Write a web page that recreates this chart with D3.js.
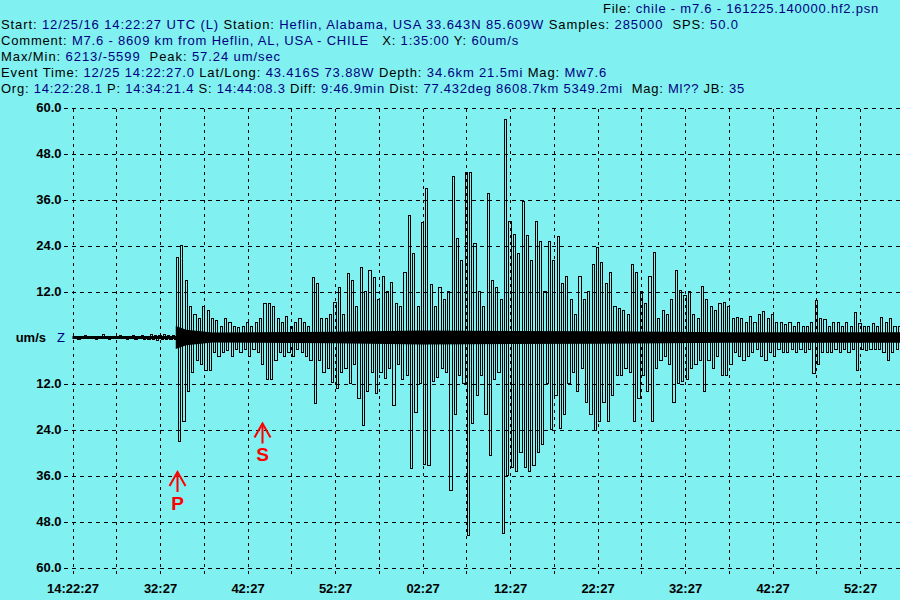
<!DOCTYPE html>
<html><head><meta charset="utf-8">
<script src="https://cdn.jsdelivr.net/npm/d3@7"></script>
<style>
html,body{margin:0;padding:0;background:#80f0f0;}
svg{display:block;}
text{white-space:pre;}
</style></head><body>
<svg id="chart" width="900" height="600"></svg>
<script>
// ---------- DATA ----------
const sampleStepSec = 15;           // one value read per 15 s of record
const recordMinutes = 95;           // X: 1:35:00
const yTicks = [-60,-48,-36,-24,-12,0,12,24,36,48,60];
const gridMinutes = [0,5,10,15,20,25,30,35,40,45,50,55,60,65,70,75,80,85,90,95];
const labelMinutes = [0,10,20,30,40,50,60,70,80,90];
const timeLabels = ["14:22:27","32:27","42:27","52:27","02:27","12:27","22:27","32:27","42:27","52:27"];
const phaseNames = ["P","S"];
const phaseMinutes = [11.9, 21.68]; // 14:34:21.4 and 14:44:08.3 after 14:22:27

const preEventVel = [0.3,-0.3,0.2,-0.4,0.3,-0.2,0.4,-0.3,0.3,-0.3,
 0.2,-0.4,0.3,-0.3,0.9,-0.3,0.3,-0.4,0.2,-0.3,
 0.3,-0.3,0.4,-0.3,0.3,-0.5,0.3,-0.3,0.4,-0.6,
 0.3,-0.3,0.6,-0.4,0.3,-0.5,0.7,-0.6,0.4,-0.7,
 0.5,-0.4,0.8,-0.6,0.4,-0.5,0.5,-0.4];
const pCodaVel = [21,-27,24,-22,15,-14,8,-9,6,-6,
 5,-7,8,-8.6,7,-8.6,5,-4,4.5,-5,
 3,-4,5,-3.5,4,-5,3,-3,2.5,-4,
 3,-3,4,-5,3,-3,4,-4,5,-7,
 9,-11,9,-11,8,-6,5,-4,4,-5,
 5.5,-4,3,-5,4,-3,5,-4,4,-5,
 3,-6,15.7,-17.3,14,-6,5,-9,5,-8,
 6,-11.7,9.2,-13.4,13,-9,6,-8,16.7,-12,
 15,-7,8,-16,18.3,-23,12,-14,17.4,-9,
 15.7,-14.6,10,-9,16,-10.7,12,-8,14.4,-17.7];
const surfaceVel = [9,-7,8,-11,17,-10,31.8,-34.2,22,-19.5,
 8,-12,30,-33,38.8,-33.4,13.9,-11.5,8,-10.4,
 13.1,-8,10,-9,12,-39.9,42.1,-20,25.8,-10,
 20,-12,43.1,-51.7,43,-22.5,24.5,-15,12,-10,
 8,-20,37.6,-30.8,15,-11,13,-9,10,-51.2,
 57,-36,30.3,-34,27,-35,22,-30,35.4,-34,
 26.5,-35,20,-33.4,30.3,-30,25,-28,12,-12,
 25,-24,20,-15,26.3,-23.8,14,-20,16,-12,
 10,-9,6,-14,16,-8,10,-17,12,-20,
 19,-24.3,23.6,-22,19.6,-17,14,-22,17,-15];
const tailVel = [8,-10,7.5,-10,7,-8,6,-9,19,-22,
 17,-16,12,-10,9,-14,16,-22,22.2,-8,
 5,-6,7,-5,6,-7,10,-17,17.4,-12,
 12.3,-11.6,11,-11,12,-8,6,-7,5,-6,
 13.3,-14.2,10,-6,8,-8,7,-5,9,-9.9,
 9.2,-10,8,-7,5,-4,5.3,-5,5,-6,
 4,-5,5.5,-4,4,-3,6,-5,6.9,-6,
 5,-4,6,-5,4,-3,4,-4,3.5,-4,
 4,-3,3,-4,4,-3,3,-4,3,-3,
 4,-9.4,9.7,-7,5,-4,4.8,-4,3,-4,
 4,-3,4,-4,3,-3,4,-4,3,-3,
 6.5,-8.6,3.6,-3,3,-3.4,3,-3,3.6,-3,
 3,-3,5.3,-4,4,-6.1,5,-4,3,-3,
 3,-2];
// half-width (um/s) of the solid black core of dense low-level oscillation
const coreMinutes = [0, 11.8, 11.8, 13, 16, 30, 40, 60, 75, 95];
const coreHalf    = [0.4, 0.4, 3, 2, 1.3, 1.5, 1.8, 1.6, 1.4, 1.4];

// header lines: [text, isValue]
const headerFile = [["File: ",0],["chile - m7.6 - 161225.140000.hf2.psn",1]];
const headerStart = [["Start: ",0],["12/25/16 14:22:27 UTC (L) ",1],["Station: ",0],["Heflin, Alabama, USA 33.643N 85.609W ",1],["Samples: ",0],["285000  ",1],["SPS: ",0],["50.0",1]];
const headerComment = [["Comment: ",0],["M7.6 - 8609 km from Heflin, AL, USA - CHILE   ",1],["X: ",0],["1:35:00 ",1],["Y: ",0],["60um/s",1]];
const headerMaxMin = [["Max/Min: ",0],["6213/-5599  ",1],["Peak: ",0],["57.24 um/sec",1]];
const headerEvent = [["Event Time: ",0],["12/25 14:22:27.0 ",1],["Lat/Long: ",0],["43.416S 73.88W ",1],["Depth: ",0],["34.6km 21.5mi ",1],["Mag: ",0],["Mw7.6",1]];
const headerOrg = [["Org: ",0],["14:22:28.1 ",1],["P: ",0],["14:34:21.4 ",1],["S: ",0],["14:44:08.3 ",1],["Diff: ",0],["9:46.9min ",1],["Dist: ",0],["77.432deg 8608.7km 5349.2mi  ",1],["Mag: ",0],["Ml?? ",1],["JB: ",0],["35",1]];

// ---------- DRAW ----------
const svg = d3.select("#chart");
const BG = "#80f0f0", BLUE = "#000080";
const FONT = "Liberation Sans, Arial, sans-serif";
svg.append("rect").attr("width",900).attr("height",600).attr("fill",BG);

const x = d3.scaleLinear().domain([0, recordMinutes]).range([72.5, 72.5 + recordMinutes*8.75]);
const y = d3.scaleLinear().domain([-60, 60]).range([567.5, 107.5]);

// header
const headerLines = [
  {segs: headerFile, x0: 603, x1: 879, base: 12.5},
  {segs: headerStart, x0: 1, x1: 739, base: 28.5},
  {segs: headerComment, x0: 1, x1: 519, base: 44.5},
  {segs: headerMaxMin, x0: 1, x1: 281, base: 60.5},
  {segs: headerEvent, x0: 1, x1: 607, base: 76.5},
  {segs: headerOrg, x0: 1, x1: 745, base: 92.5}
];
headerLines.forEach(h => {
  const t = svg.append("text").attr("x", h.x0).attr("y", h.base)
    .attr("font-family",FONT).attr("font-size","13px");
  h.segs.forEach(s => t.append("tspan").text(s[0]).attr("fill", s[1] ? BLUE : "#000"));
  const nat = t.node().getComputedTextLength();
  const n = h.segs.map(s=>s[0]).join("").replace(/\s+$/,"").length;
  t.attr("letter-spacing", ((h.x1 - h.x0) - nat) / n);
});

// grid via axes
const gridY = d3.axisLeft(y).tickValues(yTicks.filter(d => d !== 0)).tickSize(-(900-64)).tickFormat("");
svg.append("g").attr("transform","translate(64,0)").call(gridY)
  .call(g => g.select(".domain").remove())
  .selectAll("line").attr("stroke","#000").attr("stroke-dasharray","4,4").attr("shape-rendering","crispEdges");

const gridX = d3.axisBottom(x).tickValues(gridMinutes).tickSize(-(574-107)).tickFormat("");
svg.append("g").attr("transform","translate(0,574)").call(gridX)
  .call(g => g.select(".domain").remove())
  .selectAll("line").attr("stroke","#000").attr("stroke-dasharray","3,4").attr("shape-rendering","crispEdges");

// y labels
const yAxis = d3.axisLeft(y).tickValues(yTicks).tickSize(0).tickPadding(0)
  .tickFormat(d => d === 0 ? "" : Math.abs(d).toFixed(1));
svg.append("g").attr("transform","translate(61.5,0)").call(yAxis)
  .call(g => g.select(".domain").remove())
  .selectAll("text").attr("font-family",FONT)
  .attr("font-size","13px").attr("font-weight","bold").attr("fill","#000")
  .attr("dy", "0.34em");
svg.append("text").attr("x",46).attr("y",y(0)+4.5).attr("text-anchor","end")
  .attr("font-family",FONT).attr("font-size","13px").attr("font-weight","bold")
  .text("um/s");
svg.append("text").attr("x",57).attr("y",y(0)+4.5)
  .attr("font-family",FONT).attr("font-size","13px").attr("fill",BLUE)
  .text("Z");

// x labels
const xAxis = d3.axisBottom(x).tickValues(labelMinutes).tickSize(0).tickPadding(0)
  .tickFormat((d,i) => timeLabels[i]);
svg.append("g").attr("transform","translate(0,593)").call(xAxis)
  .call(g => g.select(".domain").remove())
  .selectAll("text").attr("font-family",FONT)
  .attr("font-size","13px").attr("font-weight","bold").attr("fill","#000").attr("dy",0);

// trace
svg.append("defs").append("clipPath").attr("id","clip").append("rect")
  .attr("x",72).attr("y",100).attr("width",828).attr("height",480);
const core = d3.area()
  .x(d => x(d[0])).y0(d => y(-d[1])).y1(d => y(d[1]));
svg.append("path").datum(coreMinutes.map((m,i)=>[m, coreHalf[i]]))
  .attr("d", core).attr("fill","#000").attr("clip-path","url(#clip)");

const velocity = preEventVel.concat(pCodaVel, surfaceVel, tailVel);
const line = d3.line()
  .x((d,i) => x(i*sampleStepSec/60))
  .y(d => y(d))
  .curve(d3.curveStep);
svg.append("path").datum(velocity).attr("d", line).attr("clip-path","url(#clip)")
  .attr("fill","none").attr("stroke","#000").attr("stroke-width",1)
  .attr("shape-rendering","crispEdges");

// phase markers
const arrowTop = [472, 423.5];
const labelBase = [510, 461];
phaseNames.forEach((p,i) => {
  const px = Math.round(x(phaseMinutes[i])) + 0.5;
  const g = svg.append("g").attr("stroke","#ff0000").attr("stroke-width",2).attr("fill","none");
  g.append("line").attr("x1",px).attr("x2",px).attr("y1",arrowTop[i]).attr("y2",arrowTop[i]+20);
  g.append("polyline").attr("points",`${px-8},${arrowTop[i]+14} ${px},${arrowTop[i]} ${px+8},${arrowTop[i]+14}`);
  svg.append("text").attr("x",px).attr("y",labelBase[i]).attr("text-anchor","middle")
    .attr("font-family",FONT).attr("font-size","19px").attr("font-weight","bold")
    .attr("fill","#ff0000").text(p);
});
</script></body></html>
